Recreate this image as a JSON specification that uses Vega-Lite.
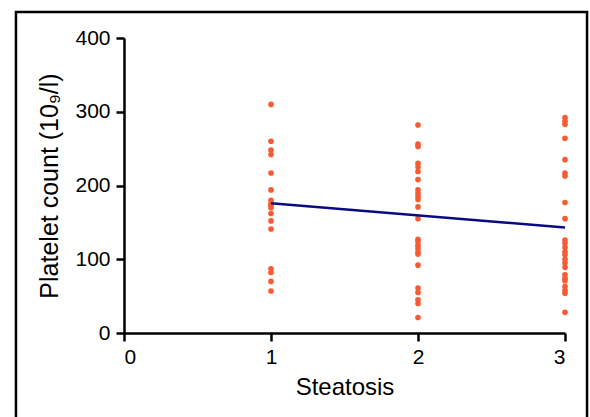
{
  "$schema": "https://vega.github.io/schema/vega-lite/v6.json",
  "width": 441,
  "height": 295,
  "autosize": {"type": "none"},
  "padding": {"left": 124, "top": 38, "right": 25, "bottom": 84},
  "background": "white",
  "config": {
    "view": {"stroke": null},
    "font": "Liberation Sans",
    "axis": {
      "grid": false,
      "domainColor": "black",
      "domainWidth": 2.5,
      "tickColor": "black",
      "tickWidth": 2.5,
      "tickSize": 8,
      "labelFont": "Liberation Sans",
      "labelFontSize": 21,
      "labelColor": "black",
      "titleFont": "Liberation Sans",
      "titleFontSize": 24,
      "titleFontWeight": "normal",
      "titleColor": "black"
    }
  },
  "datasets": {
    "points": [
      {"steatosis": 1, "platelet": 310}, {"steatosis": 1, "platelet": 260}, {"steatosis": 1, "platelet": 248},
      {"steatosis": 1, "platelet": 242}, {"steatosis": 1, "platelet": 217}, {"steatosis": 1, "platelet": 194},
      {"steatosis": 1, "platelet": 180}, {"steatosis": 1, "platelet": 175}, {"steatosis": 1, "platelet": 173},
      {"steatosis": 1, "platelet": 170}, {"steatosis": 1, "platelet": 162}, {"steatosis": 1, "platelet": 152},
      {"steatosis": 1, "platelet": 141}, {"steatosis": 1, "platelet": 87}, {"steatosis": 1, "platelet": 82},
      {"steatosis": 1, "platelet": 70}, {"steatosis": 1, "platelet": 57},
      {"steatosis": 2, "platelet": 282}, {"steatosis": 2, "platelet": 256}, {"steatosis": 2, "platelet": 253},
      {"steatosis": 2, "platelet": 230}, {"steatosis": 2, "platelet": 225}, {"steatosis": 2, "platelet": 219},
      {"steatosis": 2, "platelet": 208}, {"steatosis": 2, "platelet": 194}, {"steatosis": 2, "platelet": 189},
      {"steatosis": 2, "platelet": 185}, {"steatosis": 2, "platelet": 181}, {"steatosis": 2, "platelet": 171},
      {"steatosis": 2, "platelet": 155}, {"steatosis": 2, "platelet": 127}, {"steatosis": 2, "platelet": 124},
      {"steatosis": 2, "platelet": 119}, {"steatosis": 2, "platelet": 115}, {"steatosis": 2, "platelet": 110},
      {"steatosis": 2, "platelet": 107}, {"steatosis": 2, "platelet": 92}, {"steatosis": 2, "platelet": 61},
      {"steatosis": 2, "platelet": 55}, {"steatosis": 2, "platelet": 45}, {"steatosis": 2, "platelet": 40},
      {"steatosis": 2, "platelet": 21},
      {"steatosis": 3, "platelet": 292}, {"steatosis": 3, "platelet": 287}, {"steatosis": 3, "platelet": 283},
      {"steatosis": 3, "platelet": 264}, {"steatosis": 3, "platelet": 235}, {"steatosis": 3, "platelet": 217},
      {"steatosis": 3, "platelet": 213}, {"steatosis": 3, "platelet": 177}, {"steatosis": 3, "platelet": 155},
      {"steatosis": 3, "platelet": 126}, {"steatosis": 3, "platelet": 122}, {"steatosis": 3, "platelet": 116},
      {"steatosis": 3, "platelet": 110}, {"steatosis": 3, "platelet": 106}, {"steatosis": 3, "platelet": 100},
      {"steatosis": 3, "platelet": 95}, {"steatosis": 3, "platelet": 89}, {"steatosis": 3, "platelet": 79},
      {"steatosis": 3, "platelet": 74}, {"steatosis": 3, "platelet": 71}, {"steatosis": 3, "platelet": 63},
      {"steatosis": 3, "platelet": 58}, {"steatosis": 3, "platelet": 54}, {"steatosis": 3, "platelet": 28}
    ],
    "fit": [
      {"steatosis": 1, "platelet": 176},
      {"steatosis": 3, "platelet": 143}
    ],
    "frame": [
      {"steatosis": -0.735, "steatosis_end": 3.15, "platelet": 435.3, "platelet_end": -130}
    ]
  },
  "layer": [
    {
      "data": {"name": "frame"},
      "mark": {"type": "rect", "fill": null, "stroke": "black", "strokeWidth": 2.5, "clip": false},
      "encoding": {
        "x": {"field": "steatosis", "type": "quantitative", "scale": {"domain": [0, 3], "nice": false, "zero": false},
              "axis": {"values": [0, 1, 2, 3], "format": "d", "title": "Steatosis", "labelPadding": 5, "titlePadding": 8}},
        "x2": {"field": "steatosis_end"},
        "y": {"field": "platelet", "type": "quantitative", "scale": {"domain": [0, 400], "nice": false, "zero": false},
              "axis": {"values": [0, 100, 200, 300, 400], "format": "d", "title": "Platelet count (10₉/l)", "titleFontSize": 25, "labelPadding": 6, "titlePadding": 12}},
        "y2": {"field": "platelet_end"}
      }
    },
    {
      "data": {"name": "points"},
      "mark": {"type": "circle", "size": 32, "color": "#f65c34", "opacity": 1},
      "encoding": {
        "x": {"field": "steatosis", "type": "quantitative"},
        "y": {"field": "platelet", "type": "quantitative"}
      }
    },
    {
      "data": {"name": "fit"},
      "mark": {"type": "line", "color": "#0b0b7d", "strokeWidth": 2.5},
      "encoding": {
        "x": {"field": "steatosis", "type": "quantitative"},
        "y": {"field": "platelet", "type": "quantitative"}
      }
    }
  ]
}
